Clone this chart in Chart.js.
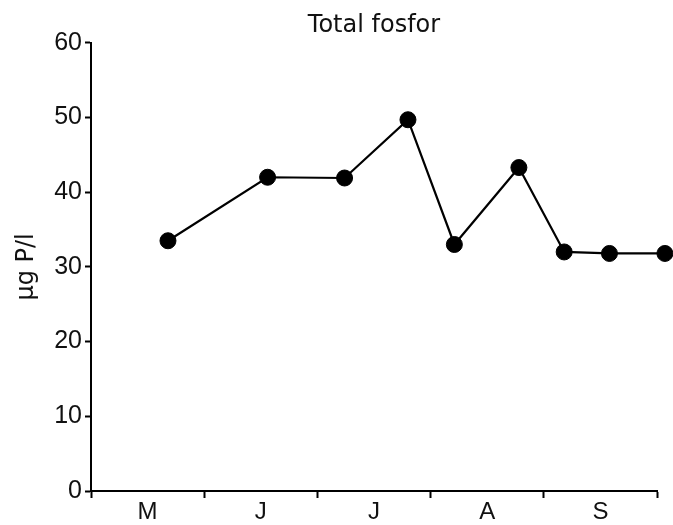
<!DOCTYPE html>
<html>
<head>
<meta charset="utf-8">
<script src="https://cdn.jsdelivr.net/npm/chart.js@4/dist/chart.umd.min.js"></script>
<style>
html,body{margin:0;padding:0;background:#fff;}
#wrap{width:673px;height:525px;position:relative;}
</style>
</head>
<body>
<div id="wrap"><canvas id="c" width="673" height="525"></canvas></div>
<script>
// Data (x: months since start of May)
const monthLabels = ['M', 'J', 'J', 'A', 'S'];
const sampleTimes = [0.68, 1.56, 2.24, 2.80, 3.21, 3.78, 4.18, 4.58, 5.07];
const totalP = [33.5, 42.0, 41.9, 49.7, 33.0, 43.3, 32.0, 31.8, 31.8];
const yTicks = [0, 10, 20, 30, 40, 50, 60];
const chartTitle = 'Total fosfor';
const yTitle = 'μg P/l';

const points = sampleTimes.map((t, i) => ({x: t, y: totalP[i]}));
const xTickValues = [];
for (let i = 0; i <= monthLabels.length; i++) {
  xTickValues.push(i);
  if (i < monthLabels.length) xTickValues.push(i + 0.5);
}

new Chart(document.getElementById('c'), {
  type: 'scatter',
  data: {
    datasets: [{
      data: points,
      showLine: true,
      borderColor: '#000',
      borderWidth: 2.2,
      backgroundColor: '#000',
      pointBackgroundColor: '#000',
      pointBorderColor: '#000',
      pointBorderWidth: 1,
      pointRadius: 8,
      pointHoverRadius: 8,
      clip: false
    }]
  },
  options: {
    responsive: false,
    animation: false,
    layout: {padding: {left: 0, right: 16, top: 0, bottom: 0}},
    plugins: {
      legend: {display: false},
      tooltip: {enabled: false},
      title: {
        display: true,
        text: chartTitle,
        fullSize: false,
        color: '#111',
        font: {family: '"DejaVu Sans", sans-serif', size: 24, weight: 'normal', lineHeight: 1.2},
        padding: {top: 11, bottom: 3}
      }
    },
    scales: {
      x: {
        type: 'linear',
        min: 0,
        max: monthLabels.length,
        afterBuildTicks: s => { s.ticks = xTickValues.map(v => ({value: v})); },
        afterFit: s => { s.height = 34; },
        ticks: {
          autoSkip: false,
          maxRotation: 0,
          padding: 0,
          color: '#111',
          font: {family: '"Liberation Sans", Arial, sans-serif', size: 24},
          callback: v => (v % 1 !== 0 ? monthLabels[Math.floor(v)] : '')
        },
        grid: {
          drawOnChartArea: false,
          drawTicks: true,
          tickLength: 7,
          tickWidth: 2,
          tickColor: ctx => (ctx.tick && ctx.tick.value % 1 !== 0 ? 'rgba(0,0,0,0)' : '#000')
        },
        border: {color: '#000', width: 2}
      },
      y: {
        type: 'linear',
        min: 0,
        max: 60,
        afterBuildTicks: s => { s.ticks = yTicks.map(v => ({value: v})); },
        afterFit: s => { s.width = 91; },
        ticks: {
          padding: 3,
          color: '#111',
          font: {family: '"Liberation Sans", Arial, sans-serif', size: 25}
        },
        grid: {
          drawOnChartArea: false,
          drawTicks: true,
          tickLength: 6,
          tickWidth: 2,
          tickColor: '#000'
        },
        border: {color: '#000', width: 2},
        title: {
          display: true,
          text: yTitle,
          color: '#111',
          font: {family: '"DejaVu Sans", sans-serif', size: 24},
          padding: {top: 12, bottom: 0}
        }
      }
    }
  }
});
</script>
</body>
</html>
